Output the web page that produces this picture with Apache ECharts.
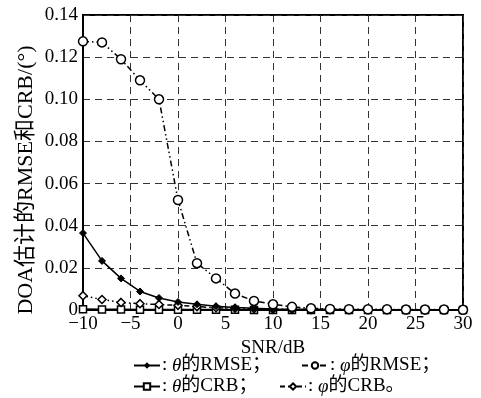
<!DOCTYPE html>
<html>
<head>
<meta charset="utf-8">
<script src="https://cdn.jsdelivr.net/npm/echarts@6/dist/echarts.min.js"></script>
<style>
  html, body { margin: 0; padding: 0; background: #fff; }
  #chart { width: 481px; height: 398px; }
</style>
</head>
<body>
<div id="chart"></div>
<script>
const snr = [-10, -8, -6, -4, -2, 0, 2, 4, 6, 8, 10, 12, 14, 16, 18, 20, 22, 24, 26, 28, 30];
const thetaRmse = [0.0365, 0.0233, 0.0150, 0.0088, 0.0057, 0.0038, 0.0027, 0.0018, 0.0012, 0.0008, 0.0005, 0.0004, 0.0003, 0.0002, 0.0002, 0.0001, 0.0001, 0.0001, 0.0001, 0.0001, 0.0001];
const phiRmse = [0.1275, 0.1270, 0.1190, 0.1090, 0.1000, 0.0522, 0.0222, 0.0150, 0.0078, 0.0043, 0.0027, 0.0015, 0.0008, 0.0005, 0.0004, 0.0003, 0.0003, 0.0002, 0.0002, 0.0002, 0.0001];
const thetaCrb = [0.0003, 0.0002, 0.0002, 0.0001, 0.0001, 0.0001, 0.0001, 0.0001, 0.0001, 0, 0, 0, 0, 0, 0, 0, 0, 0, 0, 0, 0];
const phiCrb = [0.0068, 0.0050, 0.0036, 0.0030, 0.0026, 0.0022, 0.0016, 0.0011, 0.0008, 0.0006, 0.0004, 0.0003, 0.0002, 0.0002, 0.0001, 0.0001, 0.0001, 0.0001, 0.0001, 0.0001, 0.0001];
const yTicks = ['0', '0.02', '0.04', '0.06', '0.08', '0.10', '0.12', '0.14'];

const pairs = arr => snr.map((x, i) => [x, arr[i]]);
const FONT = '"Liberation Serif", "Noto Sans CJK SC", serif';

const chart = echarts.init(document.getElementById('chart'));

const legendText = {
  'θ的RMSE': ': {i|θ}的RMSE；',
  'φ的RMSE': ': {i|φ}的RMSE；',
  'θ的CRB': ': {i|θ}的CRB；',
  'φ的CRB': ': {i|φ}的CRB。'
};
const legendItem = (name, left, top) => ({
  left: left, top: top,
  itemWidth: 26, itemHeight: 8,
  data: [name],
  formatter: n => legendText[n],
  textStyle: {
    fontFamily: FONT, fontSize: 19, color: '#000', padding: [0, 0, 0, -3],
    rich: { i: { fontFamily: FONT, fontStyle: 'italic', fontSize: 19, color: '#000' } }
  }
});

chart.setOption({
  animation: false,
  backgroundColor: '#fff',
  grid: {
    left: 83, right: 18, top: 15, bottom: 88,
    outerBoundsMode: 'none', containLabel: false,
    show: true, borderColor: '#000', borderWidth: 2
  },
  legend: [
    legendItem('θ的RMSE', 128, 351),
    legendItem('φ的RMSE', 296, 351),
    legendItem('θ的CRB', 128, 372),
    legendItem('φ的CRB', 274, 372)
  ],
  graphic: [{
    type: 'text', x: 26, y: 180, rotation: Math.PI / 2,
    style: {
      text: 'DOA估计的RMSE和CRB/(°)', fontFamily: FONT, fontSize: 22, fill: '#000',
      align: 'center', verticalAlign: 'middle'
    }
  }],
  xAxis: {
    type: 'value', min: -10, max: 30, interval: 5,
    name: 'SNR/dB', nameLocation: 'middle', nameGap: 26,
    nameTextStyle: { fontFamily: FONT, fontSize: 19, color: '#000' },
    axisLine: { onZero: false, lineStyle: { color: '#000', width: 2 } },
    axisTick: { show: false },
    axisLabel: {
      fontFamily: FONT, fontSize: 19, color: '#000', margin: 5,
      formatter: v => String(v).replace('-', '−')
    },
    splitLine: { show: true, lineStyle: { color: '#333', type: [7, 5], width: 1 } }
  },
  yAxis: {
    type: 'value', min: 0, max: 0.14, interval: 0.02,
    axisLine: { show: true, onZero: false, lineStyle: { color: '#000', width: 2 } },
    axisTick: { show: false },
    axisLabel: {
      fontFamily: FONT, fontSize: 19, color: '#000', margin: 5,
      formatter: (v, i) => yTicks[i]
    },
    splitLine: { show: true, lineStyle: { color: '#333', type: [7, 5], width: 1 } }
  },
  series: [
    {
      name: 'θ的CRB', type: 'line', data: pairs(thetaCrb),
      symbol: 'rect', symbolSize: 7,
      itemStyle: { color: '#fff', borderColor: '#000', borderWidth: 1.5 },
      lineStyle: { color: '#000', width: 2 }
    },
    {
      name: 'φ的CRB', type: 'line', data: pairs(phiCrb),
      symbol: 'diamond', symbolSize: 8,
      itemStyle: { color: '#fff', borderColor: '#000', borderWidth: 1.5 },
      lineStyle: { color: '#000', width: 1.5, type: [5, 3, 1.5, 3, 1.5, 3] }
    },
    {
      name: 'θ的RMSE', type: 'line', data: pairs(thetaRmse),
      symbol: 'diamond', symbolSize: 7,
      itemStyle: { color: '#000', borderColor: '#000' },
      lineStyle: { color: '#000', width: 1.5 }
    },
    {
      name: 'φ的RMSE', type: 'line', data: pairs(phiRmse),
      symbol: 'circle', symbolSize: 9,
      itemStyle: { color: '#fff', borderColor: '#000', borderWidth: 1.5 },
      lineStyle: { color: '#000', width: 1.5, type: [6, 3, 1.5, 3, 1.5, 3] }
    }
  ]
});
</script>
</body>
</html>
